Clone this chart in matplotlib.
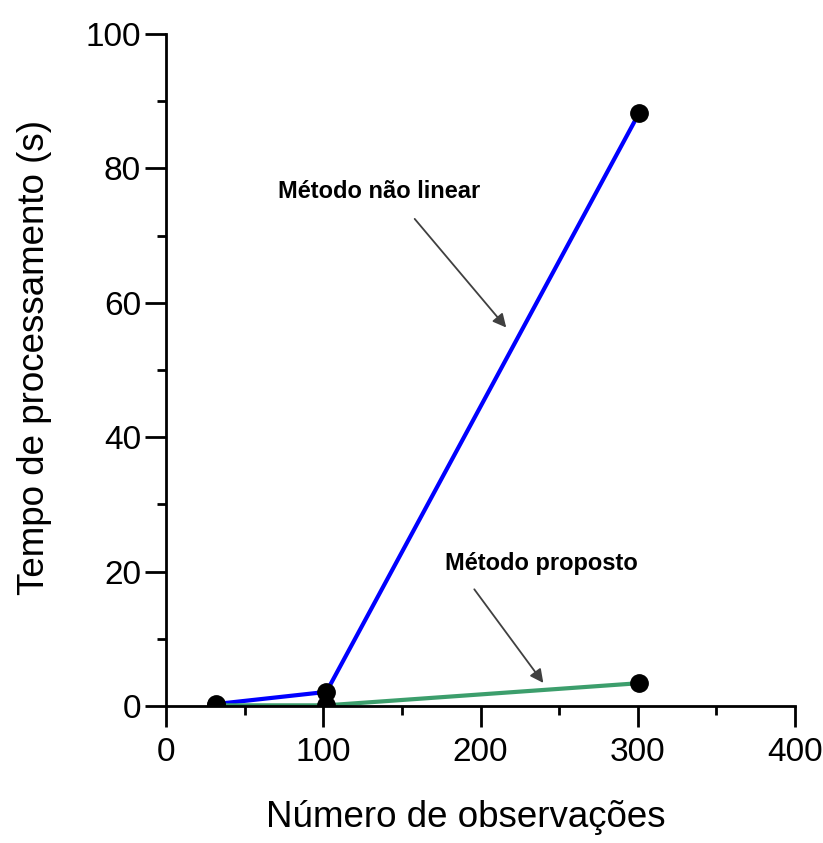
import numpy as np
import matplotlib.pyplot as plt
from matplotlib.ticker import MultipleLocator

plt.rcParams['font.family'] = ['Liberation Sans', 'DejaVu Sans']

# Data
n_obs = [32, 102, 301]
t_nonlinear = [0.3, 2.1, 88.3]
t_proposed = [0.1, 0.1, 3.4]

fig = plt.figure(figsize=(8.23, 8.43), dpi=100)
ax = fig.add_axes([0.2017, 0.1625, 0.7643, 0.7972])

ax.plot(n_obs, t_nonlinear, color='#0000ff', lw=3, zorder=2)
ax.plot(n_obs, t_proposed, color='#3c9e6c', lw=3, zorder=2)
ax.plot(n_obs, t_nonlinear, 'o', color='black', ms=12.5, zorder=3)
ax.plot(n_obs, t_proposed, 'o', color='black', ms=12.5, zorder=3)

ax.set_xlim(0, 400)
ax.set_ylim(0, 100)
ax.spines['top'].set_visible(False)
ax.spines['right'].set_visible(False)
for s in ['left', 'bottom']:
    ax.spines[s].set_linewidth(2)

ax.xaxis.set_major_locator(MultipleLocator(100))
ax.xaxis.set_minor_locator(MultipleLocator(50))
ax.yaxis.set_major_locator(MultipleLocator(20))
ax.yaxis.set_minor_locator(MultipleLocator(10))
ax.tick_params(which='major', direction='out', length=15, width=2, labelsize=24)
ax.tick_params(axis='x', which='major', pad=7)
ax.tick_params(axis='y', which='major', pad=3)
ax.tick_params(which='minor', direction='out', length=6.5, width=2)

ax.set_xlabel('Número de observações', fontsize=26.5)
ax.set_ylabel('Tempo de processamento (s)', fontsize=26.5, labelpad=24)
ax.xaxis.set_label_coords(0.477, -0.14)
ax.yaxis.label.set_y(0.518)

arrow = dict(arrowstyle='-|>', color='#404040', lw=1.3, mutation_scale=20)
ax.annotate('', xy=(217.5, 56.0), xytext=(157, 72.8), arrowprops=arrow)
ax.annotate('', xy=(241, 3.1), xytext=(195, 17.7), arrowprops=arrow)
ax.text(135.5, 76.5, 'Método não linear', fontsize=17, fontweight='bold',
        ha='center', va='center')
ax.text(239, 21.2, 'Método proposto', fontsize=17, fontweight='bold',
        ha='center', va='center')

fig.savefig('out.png', dpi=100)
